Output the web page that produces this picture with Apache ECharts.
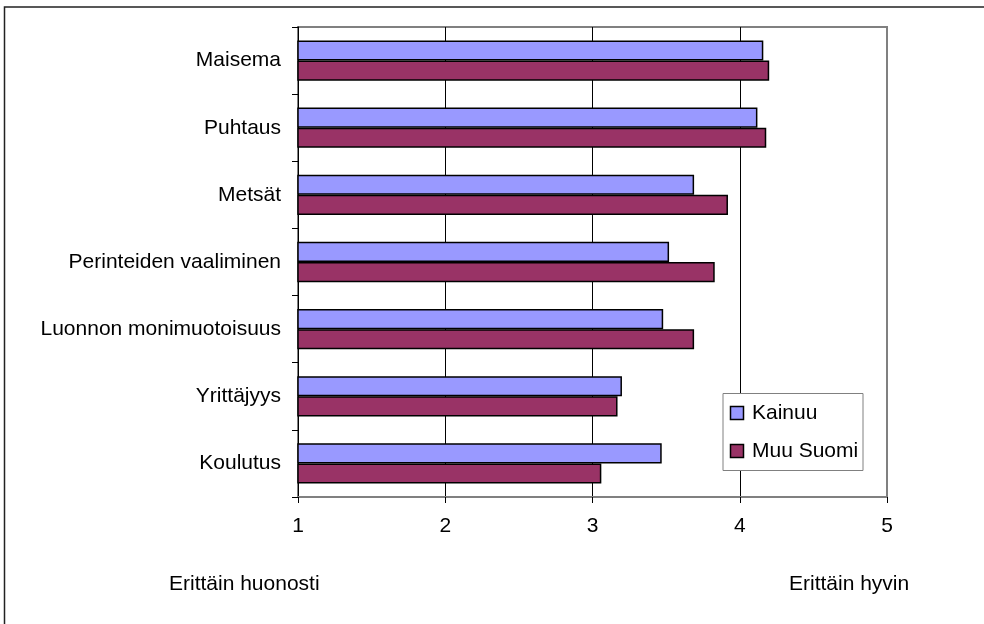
<!DOCTYPE html>
<html>
<head>
<meta charset="utf-8">
<script src="https://cdn.jsdelivr.net/npm/echarts@6/dist/echarts.min.js"></script>
<style>
html,body{margin:0;padding:0;background:#fff;}
#chart{width:984px;height:624px;}
</style>
</head>
<body>
<div id="chart"></div>
<script>
const categories = ["Maisema", "Puhtaus", "Metsät", "Perinteiden vaaliminen", "Luonnon monimuotoisuus", "Yrittäjyys", "Koulutus"];
const kainuu = [4.16, 4.12, 3.69, 3.52, 3.48, 3.20, 3.47];
const muuSuomi = [4.20, 4.18, 3.92, 3.83, 3.69, 3.17, 3.06];
const seriesNames = ["Kainuu", "Muu Suomi"];
const xTicks = [1, 2, 3, 4, 5];
const leftNote = "Erittäin huonosti";
const rightNote = "Erittäin hyvin";

const FONT = "Liberation Sans, Arial, sans-serif";
const chart = echarts.init(document.getElementById('chart'), null, {renderer: 'canvas'});
chart.setOption({
  animation: false,
  backgroundColor: '#fff',
  textStyle: {fontFamily: FONT},
  grid: {left: 298, right: 97, top: 27, bottom: 127, show: true, borderColor: '#808080', borderWidth: 2, backgroundColor: 'transparent'},
  xAxis: {
    type: 'value', min: xTicks[0], max: xTicks[xTicks.length - 1], interval: 1,
    axisLine: {show: true, lineStyle: {color: '#808080', width: 2}},
    axisTick: {show: true, length: 6, lineStyle: {color: '#000', width: 1}},
    axisLabel: {color: '#000', fontSize: 21, fontFamily: FONT, margin: 19},
    splitLine: {show: true, lineStyle: {color: ['#000', '#000', '#000', '#000', '#808080'], width: 1}}
  },
  yAxis: {
    type: 'category', data: categories, inverse: true,
    axisLine: {show: true, lineStyle: {color: '#000', width: 1}},
    axisTick: {show: true, length: 6, lineStyle: {color: '#000', width: 1}},
    axisLabel: {color: '#000', fontSize: 21, fontFamily: FONT, margin: 17}
  },
  legend: {show: false},
  series: [
    {name: seriesNames[0], type: 'bar', data: kainuu, barGap: '0%', barCategoryGap: '40%',
     itemStyle: {color: '#9999FF', borderColor: '#000', borderWidth: 1.5}},
    {name: seriesNames[1], type: 'bar', data: muuSuomi, barGap: '0%', barCategoryGap: '40%',
     itemStyle: {color: '#993366', borderColor: '#000', borderWidth: 1.5}}
  ],
  graphic: [
    {type: 'rect', shape: {x: 4.5, y: 7, width: 1000, height: 700}, style: {fill: 'none', stroke: '#222', lineWidth: 1.5}, z: 0, silent: true},
    {type: 'rect', shape: {x: 723, y: 393.5, width: 140, height: 77}, style: {fill: '#fff', stroke: '#808080', lineWidth: 1}, z: 10},
    {type: 'rect', shape: {x: 730.5, y: 406.5, width: 13, height: 13}, style: {fill: '#9999FF', stroke: '#000', lineWidth: 1.5}, z: 11},
    {type: 'text', x: 752, y: 413, style: {text: seriesNames[0], fill: '#000', font: '21px ' + FONT, verticalAlign: 'middle'}, z: 11},
    {type: 'rect', shape: {x: 730.5, y: 444.5, width: 13, height: 13}, style: {fill: '#993366', stroke: '#000', lineWidth: 1.5}, z: 11},
    {type: 'text', x: 752, y: 451, style: {text: seriesNames[1], fill: '#000', font: '21px ' + FONT, verticalAlign: 'middle'}, z: 11},
    {type: 'text', x: 169, y: 584, style: {text: leftNote, fill: '#000', font: '21px ' + FONT, verticalAlign: 'middle'}},
    {type: 'text', x: 789, y: 584, style: {text: rightNote, fill: '#000', font: '21px ' + FONT, verticalAlign: 'middle'}}
  ]
});
</script>
</body>
</html>
